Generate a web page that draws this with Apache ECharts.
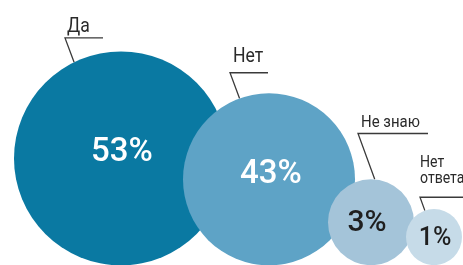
<!DOCTYPE html>
<html lang="ru">
<head>
    <meta charset="UTF-8">
    <title>Опрос</title>
    <script src="https://cdn.jsdelivr.net/npm/echarts@6/dist/echarts.min.js"></script>
    <style>
        html, body {
            margin: 0;
            padding: 0;
            background: #ffffff;
        }
        #main {
            width: 463px;
            height: 265px;
        }
    </style>
</head>
<body>
<div id="main"></div>

<script>
    // данные
    var answers = ['Да', 'Нет', 'Не знаю', 'Нет ответа'];
    var shares = [53, 43, 3, 1];

    // раскладка пузырей (в пикселях картинки)
    var bubbleX = [121, 269, 371, 434];
    var bubbleDiameter = [214, 172, 86, 56];
    var bubbleColors = ['#0a79a2', '#5ea3c6', '#a4c4d9', '#c6dbe8'];
    var pctColors = ['#ffffff', '#ffffff', '#1f1f1f', '#1f1f1f'];
    var pctFont = [33, 33, 30, 25];
    var pctOffset = [[1, -6], [2, -5], [-4, 1], [1, 2]];

    // выноски: точка излома, конец горизонтали, угол касания, позиция подписи
    var callouts = [
        { elbow: [65, 228], end: 103, angle: 116, text: [67, 239], size: 20 },
        { elbow: [230, 193], end: 268, angle: 110, text: [233, 209], size: 20 },
        { elbow: [358, 132], end: 428, angle: 85, text: [361, 143], size: 17 },
        { elbow: [420, 68], end: 463, angle: 109, text: [420, 94], size: 16, wrap: true }
    ];

    var FONT = 'Roboto, "Noto Sans", sans-serif';

    var chart = echarts.init(document.getElementById('main'));

    var points = answers.map(function (name, i) {
        return {
            name: name,
            value: [bubbleX[i], bubbleDiameter[i] / 2, shares[i]],
            itemStyle: { color: bubbleColors[i], opacity: 1 },
            label: {
                color: pctColors[i],
                fontSize: pctFont[i],
                offset: pctOffset[i]
            }
        };
    });

    chart.setOption({
        animation: false,
        grid: { left: 0, right: 0, top: 0, bottom: -1 },
        xAxis: { type: 'value', min: 0, max: 463, show: false },
        yAxis: { type: 'value', min: 0, max: 266, show: false },
        series: [
            {
                type: 'scatter',
                data: points,
                symbolSize: function (val, params) {
                    return bubbleDiameter[params.dataIndex];
                },
                label: {
                    show: true,
                    position: 'inside',
                    fontFamily: FONT,
                    fontWeight: 500,
                    formatter: function (p) {
                        return p.value[2] + '%';
                    }
                },
                emphasis: { disabled: true },
                z: 2
            },
            {
                // выноски с подписями
                type: 'custom',
                data: points.map(function (p) { return p.value; }),
                renderItem: function (params, api) {
                    var i = params.dataIndex;
                    var c = callouts[i];
                    var center = api.coord([api.value(0), api.value(1)]);
                    var r = bubbleDiameter[i] / 2;
                    var a = c.angle * Math.PI / 180;
                    var touch = [center[0] + r * Math.cos(a), center[1] - r * Math.sin(a)];
                    var elbow = api.coord(c.elbow);
                    var end = api.coord([c.end, c.elbow[1]]);
                    var txt = api.coord(c.text);
                    var label = c.wrap ? answers[i].replace(' ', '\n') : answers[i];
                    return {
                        type: 'group',
                        children: [
                            {
                                type: 'polyline',
                                shape: { points: [touch, elbow, end] },
                                style: { stroke: '#3a3a3a', lineWidth: 1.3, fill: null }
                            },
                            {
                                type: 'text',
                                x: txt[0],
                                y: txt[1],
                                scaleX: 0.88,
                                style: {
                                    text: label,
                                    x: 0,
                                    y: 0,
                                    fill: '#2a2a2a',
                                    font: c.size + 'px ' + FONT,
                                    lineHeight: 16,
                                    textAlign: 'left',
                                    textVerticalAlign: 'middle'
                                }
                            }
                        ]
                    };
                },
                z: 1
            }
        ]
    });
</script>
</body>
</html>
